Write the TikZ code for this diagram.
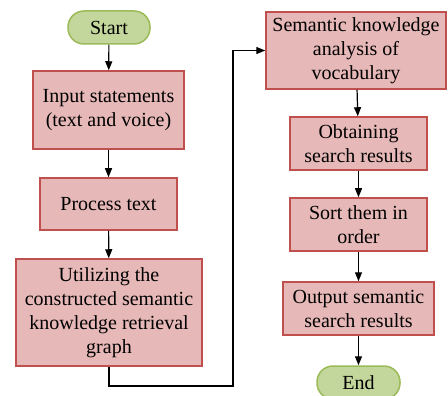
\documentclass[tikz,border=0pt]{standalone}
\usepackage{fontspec}
\setmainfont{Liberation Serif}
\definecolor{boxFill}{HTML}{E6B8B7}
\definecolor{boxLine}{HTML}{C0504D}
\definecolor{termFill}{HTML}{C3D69B}
\definecolor{termLine}{HTML}{9BBB59}
\usetikzlibrary{arrows.meta}

\begin{document}
\begin{tikzpicture}[x=1pt,y=-1pt,
    font=\fontsize{20}{24}\selectfont,
    stepbox/.style={draw=boxLine,fill=boxFill,line width=1.5pt,align=center,inner sep=0pt},
    terminal/.style={draw=termLine,fill=termFill,line width=1.5pt,rounded corners=16pt,
      minimum width=82pt,minimum height=33pt,inner sep=0pt},
    flow/.style={-{Triangle[length=9pt,width=7pt]},line width=1.2pt}]
        \useasboundingbox (0,0) rectangle (448,396);

        % Left column
        \node[terminal] (start) at (109,27.5) {Start};
        \node[stepbox,minimum width=151pt,minimum height=78pt] (input) at (108.5,110)
          {Input statements\\(text and voice)};
        \node[stepbox,minimum width=137pt,minimum height=52pt] (process) at (108.5,204)
          {Process text};
        \node[stepbox,minimum width=186pt,minimum height=107pt] (utilize) at (109,312.5)
          {Utilizing the\\constructed semantic\\knowledge retrieval\\graph};

        % Right column
        \node[stepbox,minimum width=180pt,minimum height=77pt] (analysis) at (356,50.5)
          {Semantic knowledge\\analysis of\\vocabulary};
        \node[stepbox,minimum width=137pt,minimum height=53pt] (obtain) at (358.5,143.5)
          {Obtaining\\search results};
        \node[stepbox,minimum width=137pt,minimum height=53pt] (sort) at (358.5,224.5)
          {Sort them in\\order};
        \node[stepbox,minimum width=151pt,minimum height=53pt] (output) at (358.5,308.5)
          {Output semantic\\search results};
        \node[terminal,minimum width=83pt] (end) at (358.5,382.5) {End};

        % Arrows
        \draw[flow] (start) -- (input);
        \draw[flow] (input) -- (process);
        \draw[flow] (process) -- (utilize);
        \coordinate (turn) at (233,386);
        \draw[flow] (utilize.south) |- (turn) |- (analysis.west);
        \draw[flow] (analysis) -- (obtain);
        \draw[flow] (obtain) -- (sort);
        \draw[flow] (sort) -- (output);
        \draw[flow] (output) -- (end);
\end{tikzpicture}
\end{document}
